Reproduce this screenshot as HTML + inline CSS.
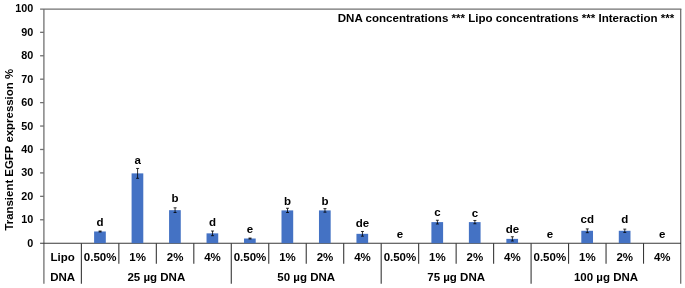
<!DOCTYPE html>
<html><head><meta charset="utf-8"><title>chart</title>
<style>
html,body{margin:0;padding:0;background:#fff;}
svg{display:block;}
text{font-family:"Liberation Sans",Arial,sans-serif;font-weight:bold;fill:#000;}
</style></head><body>
<svg width="685" height="288" viewBox="0 0 685 288">
<rect width="685" height="288" fill="#fff"/>

<g stroke="#707070" stroke-width="1.3" fill="none">
<line x1="40.1" y1="9.1" x2="681.35" y2="9.1"/>
<line x1="43.9" y1="8.9" x2="43.9" y2="283.7"/>
<line x1="680.7" y1="8.9" x2="680.7" y2="283.7"/>
<line x1="40.1" y1="219.77" x2="43.9" y2="219.77"/>
<line x1="40.1" y1="196.34" x2="43.9" y2="196.34"/>
<line x1="40.1" y1="172.91" x2="43.9" y2="172.91"/>
<line x1="40.1" y1="149.48" x2="43.9" y2="149.48"/>
<line x1="40.1" y1="126.05" x2="43.9" y2="126.05"/>
<line x1="40.1" y1="102.62" x2="43.9" y2="102.62"/>
<line x1="40.1" y1="79.19" x2="43.9" y2="79.19"/>
<line x1="40.1" y1="55.76" x2="43.9" y2="55.76"/>
<line x1="40.1" y1="32.33" x2="43.9" y2="32.33"/>
</g>
<g stroke="#383838" stroke-width="1.1" fill="none">
<line x1="40.1" y1="243.2" x2="681.0" y2="243.2"/>
<line x1="81.38" y1="243.2" x2="81.38" y2="283.7"/>
<line x1="118.85" y1="243.2" x2="118.85" y2="263.7"/>
<line x1="156.33" y1="243.2" x2="156.33" y2="263.7"/>
<line x1="193.81" y1="243.2" x2="193.81" y2="263.7"/>
<line x1="231.28" y1="243.2" x2="231.28" y2="283.7"/>
<line x1="268.76" y1="243.2" x2="268.76" y2="263.7"/>
<line x1="306.24" y1="243.2" x2="306.24" y2="263.7"/>
<line x1="343.71" y1="243.2" x2="343.71" y2="263.7"/>
<line x1="381.19" y1="243.2" x2="381.19" y2="283.7"/>
<line x1="418.66" y1="243.2" x2="418.66" y2="263.7"/>
<line x1="456.14" y1="243.2" x2="456.14" y2="263.7"/>
<line x1="493.62" y1="243.2" x2="493.62" y2="263.7"/>
<line x1="531.09" y1="243.2" x2="531.09" y2="283.7"/>
<line x1="568.57" y1="243.2" x2="568.57" y2="263.7"/>
<line x1="606.05" y1="243.2" x2="606.05" y2="263.7"/>
<line x1="643.52" y1="243.2" x2="643.52" y2="263.7"/>
</g>
<text x="33.4" y="246.80" font-size="11.5" text-anchor="end" transform="translate(2.004,0) scale(0.94,1)">0</text>
<text x="33.4" y="223.37" font-size="11.5" text-anchor="end" transform="translate(2.004,0) scale(0.94,1)">10</text>
<text x="33.4" y="199.94" font-size="11.5" text-anchor="end" transform="translate(2.004,0) scale(0.94,1)">20</text>
<text x="33.4" y="176.51" font-size="11.5" text-anchor="end" transform="translate(2.004,0) scale(0.94,1)">30</text>
<text x="33.4" y="153.08" font-size="11.5" text-anchor="end" transform="translate(2.004,0) scale(0.94,1)">40</text>
<text x="33.4" y="129.65" font-size="11.5" text-anchor="end" transform="translate(2.004,0) scale(0.94,1)">50</text>
<text x="33.4" y="106.22" font-size="11.5" text-anchor="end" transform="translate(2.004,0) scale(0.94,1)">60</text>
<text x="33.4" y="82.79" font-size="11.5" text-anchor="end" transform="translate(2.004,0) scale(0.94,1)">70</text>
<text x="33.4" y="59.36" font-size="11.5" text-anchor="end" transform="translate(2.004,0) scale(0.94,1)">80</text>
<text x="33.4" y="35.93" font-size="11.5" text-anchor="end" transform="translate(2.004,0) scale(0.94,1)">90</text>
<text x="33.4" y="12.50" font-size="11.5" text-anchor="end" transform="translate(2.004,0) scale(0.94,1)">100</text>
<text transform="translate(13.1,230.6) rotate(-90)" font-size="11.43">Transient EGFP expression %</text>
<text x="674.2" y="22.4" font-size="11.55" text-anchor="end">DNA concentrations *** Lipo concentrations *** Interaction ***</text>
<rect x="94.11" y="231.48" width="11.7" height="11.72" fill="#4472c4"/>
<path d="M100.11 231.02V231.95M98.61 231.02h3M98.61 231.95h3" stroke="#000" stroke-width="0.8" fill="none"/>
<text x="100.11" y="226.10" font-size="11.5" text-anchor="middle">d</text>
<text x="100.11" y="260.5" font-size="11.5" text-anchor="middle">0.50%</text>
<rect x="131.59" y="173.38" width="11.7" height="69.82" fill="#4472c4"/>
<path d="M137.59 168.46V178.30M136.09 168.46h3M136.09 178.30h3" stroke="#000" stroke-width="0.8" fill="none"/>
<text x="137.59" y="164.10" font-size="11.5" text-anchor="middle">a</text>
<text x="137.59" y="260.5" font-size="11.5" text-anchor="middle">1%</text>
<rect x="169.07" y="210.16" width="11.7" height="33.04" fill="#4472c4"/>
<path d="M175.07 207.82V212.51M173.57 207.82h3M173.57 212.51h3" stroke="#000" stroke-width="0.8" fill="none"/>
<text x="175.07" y="202.00" font-size="11.5" text-anchor="middle">b</text>
<text x="175.07" y="260.5" font-size="11.5" text-anchor="middle">2%</text>
<rect x="206.54" y="233.36" width="11.7" height="9.84" fill="#4472c4"/>
<path d="M212.54 231.02V235.70M211.04 231.02h3M211.04 235.70h3" stroke="#000" stroke-width="0.8" fill="none"/>
<text x="212.54" y="225.70" font-size="11.5" text-anchor="middle">d</text>
<text x="212.54" y="260.5" font-size="11.5" text-anchor="middle">4%</text>
<rect x="244.02" y="238.51" width="11.7" height="4.69" fill="#4472c4"/>
<path d="M250.02 238.05V238.98M248.52 238.05h3M248.52 238.98h3" stroke="#000" stroke-width="0.8" fill="none"/>
<text x="250.02" y="233.10" font-size="11.5" text-anchor="middle">e</text>
<text x="250.02" y="260.5" font-size="11.5" text-anchor="middle">0.50%</text>
<rect x="281.50" y="210.40" width="11.7" height="32.80" fill="#4472c4"/>
<path d="M287.50 208.29V212.51M286.00 208.29h3M286.00 212.51h3" stroke="#000" stroke-width="0.8" fill="none"/>
<text x="287.50" y="204.60" font-size="11.5" text-anchor="middle">b</text>
<text x="287.50" y="260.5" font-size="11.5" text-anchor="middle">1%</text>
<rect x="318.97" y="210.40" width="11.7" height="32.80" fill="#4472c4"/>
<path d="M324.97 208.64V212.16M323.47 208.64h3M323.47 212.16h3" stroke="#000" stroke-width="0.8" fill="none"/>
<text x="324.97" y="204.60" font-size="11.5" text-anchor="middle">b</text>
<text x="324.97" y="260.5" font-size="11.5" text-anchor="middle">2%</text>
<rect x="356.45" y="233.83" width="11.7" height="9.37" fill="#4472c4"/>
<path d="M362.45 231.48V236.17M360.95 231.48h3M360.95 236.17h3" stroke="#000" stroke-width="0.8" fill="none"/>
<text x="362.45" y="227.10" font-size="11.5" text-anchor="middle">de</text>
<text x="362.45" y="260.5" font-size="11.5" text-anchor="middle">4%</text>
<text x="399.93" y="238.00" font-size="11.5" text-anchor="middle">e</text>
<text x="399.93" y="260.5" font-size="11.5" text-anchor="middle">0.50%</text>
<rect x="431.40" y="222.11" width="11.7" height="21.09" fill="#4472c4"/>
<path d="M437.40 220.24V223.99M435.90 220.24h3M435.90 223.99h3" stroke="#000" stroke-width="0.8" fill="none"/>
<text x="437.40" y="216.10" font-size="11.5" text-anchor="middle">c</text>
<text x="437.40" y="260.5" font-size="11.5" text-anchor="middle">1%</text>
<rect x="468.88" y="222.11" width="11.7" height="21.09" fill="#4472c4"/>
<path d="M474.88 220.47V223.75M473.38 220.47h3M473.38 223.75h3" stroke="#000" stroke-width="0.8" fill="none"/>
<text x="474.88" y="216.90" font-size="11.5" text-anchor="middle">c</text>
<text x="474.88" y="260.5" font-size="11.5" text-anchor="middle">2%</text>
<rect x="506.36" y="238.87" width="11.7" height="4.33" fill="#4472c4"/>
<path d="M512.36 236.76V240.97M510.86 236.76h3M510.86 240.97h3" stroke="#000" stroke-width="0.8" fill="none"/>
<text x="512.36" y="232.70" font-size="11.5" text-anchor="middle">de</text>
<text x="512.36" y="260.5" font-size="11.5" text-anchor="middle">4%</text>
<text x="549.83" y="238.00" font-size="11.5" text-anchor="middle">e</text>
<text x="549.83" y="260.5" font-size="11.5" text-anchor="middle">0.50%</text>
<rect x="581.31" y="230.78" width="11.7" height="12.42" fill="#4472c4"/>
<path d="M587.31 228.91V232.66M585.81 228.91h3M585.81 232.66h3" stroke="#000" stroke-width="0.8" fill="none"/>
<text x="587.31" y="223.40" font-size="11.5" text-anchor="middle">cd</text>
<text x="587.31" y="260.5" font-size="11.5" text-anchor="middle">1%</text>
<rect x="618.79" y="230.78" width="11.7" height="12.42" fill="#4472c4"/>
<path d="M624.79 229.14V232.42M623.29 229.14h3M623.29 232.42h3" stroke="#000" stroke-width="0.8" fill="none"/>
<text x="624.79" y="223.40" font-size="11.5" text-anchor="middle">d</text>
<text x="624.79" y="260.5" font-size="11.5" text-anchor="middle">2%</text>
<text x="662.26" y="238.00" font-size="11.5" text-anchor="middle">e</text>
<text x="662.26" y="260.5" font-size="11.5" text-anchor="middle">4%</text>
<text x="62.64" y="260.5" font-size="11.5" text-anchor="middle">Lipo</text>
<text x="62.64" y="280.5" font-size="11.5" text-anchor="middle">DNA</text>
<text x="156.33" y="280.5" font-size="11.5" text-anchor="middle">25 µg DNA</text>
<text x="306.24" y="280.5" font-size="11.5" text-anchor="middle">50 µg DNA</text>
<text x="456.14" y="280.5" font-size="11.5" text-anchor="middle">75 µg DNA</text>
<text x="606.05" y="280.5" font-size="11.5" text-anchor="middle">100 µg DNA</text>
</svg></body></html>
